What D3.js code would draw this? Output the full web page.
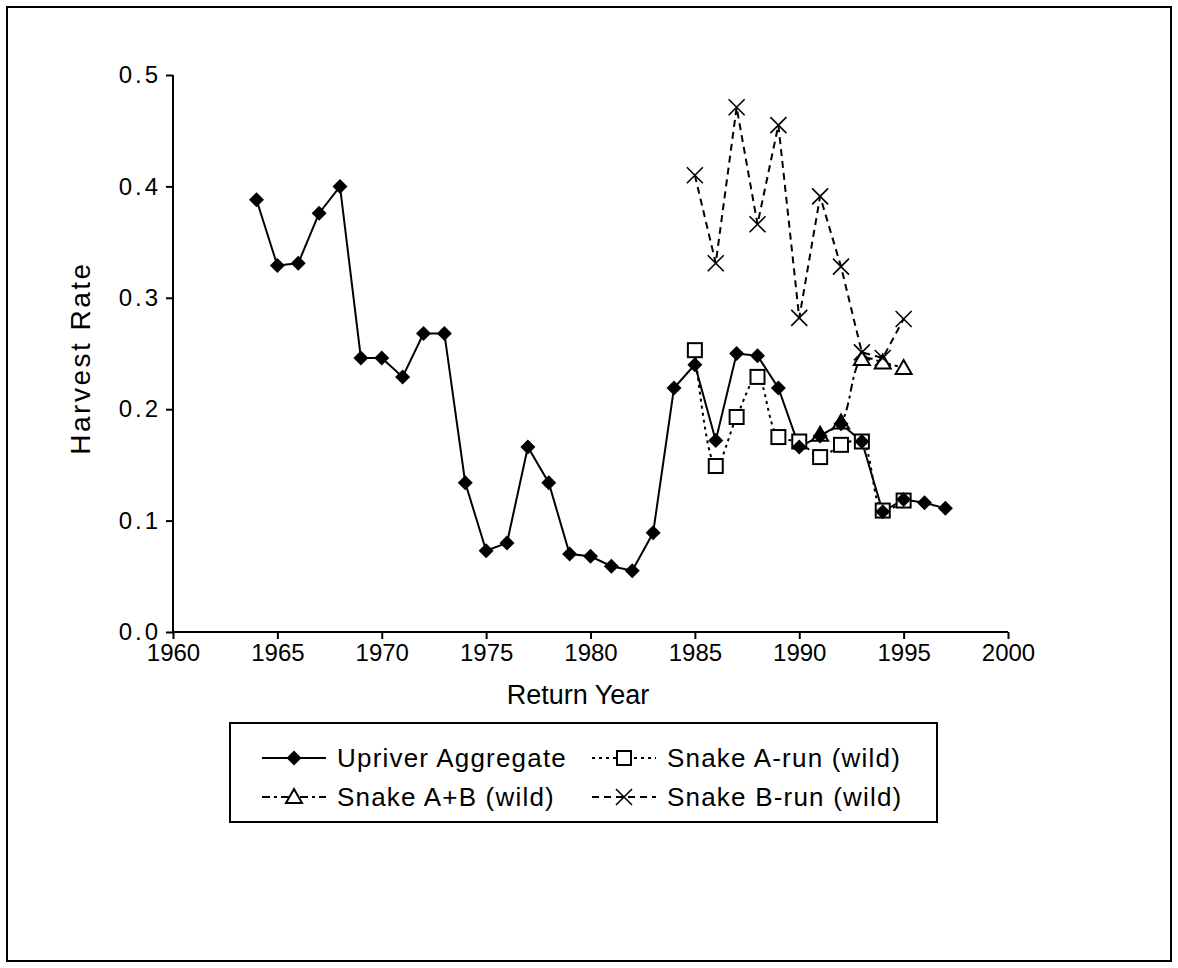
<!DOCTYPE html>
<html>
<head>
<meta charset="utf-8">
<script src="https://cdn.jsdelivr.net/npm/d3@7/dist/d3.min.js"></script>
<style>
  body { margin: 0; background: #fff; }
  svg text { font-family: "Liberation Sans", Arial, sans-serif; fill: #000; }
</style>
</head>
<body>
<div id="chart"></div>
<script>
// data
var upriverYears = d3.range(1964, 1998);
var upriverRate = [0.388, 0.329, 0.331, 0.376, 0.400, 0.246, 0.246, 0.229, 0.268, 0.268,
    0.134, 0.073, 0.080, 0.166, 0.134, 0.070, 0.068, 0.059, 0.055, 0.089,
    0.219, 0.240, 0.172, 0.250, 0.248, 0.219, 0.166, 0.176, 0.187, 0.171,
    0.108, 0.119, 0.116, 0.111];
var snakeYears = d3.range(1985, 1996);
var snakeARate = [0.253, 0.149, 0.193, 0.229, 0.175, 0.171, 0.157, 0.168, 0.171, 0.109, 0.118];
var snakeBRate = [0.410, 0.331, 0.471, 0.366, 0.455, 0.282, 0.391, 0.328, 0.251, 0.246, 0.281];
var snakeABYears = d3.range(1991, 1996);
var snakeABRate = [0.177, 0.188, 0.245, 0.242, 0.237];
var xTicks = [1960, 1965, 1970, 1975, 1980, 1985, 1990, 1995, 2000];
var yTicks = [0, 0.1, 0.2, 0.3, 0.4, 0.5];
var seriesNames = ["Upriver Aggregate", "Snake A-run (wild)", "Snake A+B (wild)", "Snake B-run (wild)"];

var svgWidth = 1178;
var svgHeight = 968;
var svg = d3.select("#chart")
    .append("svg")
    .attr("width", svgWidth)
    .attr("height", svgHeight);

// outer frame
svg.append("rect")
    .attr("x", 7).attr("y", 7)
    .attr("width", 1164).attr("height", 954)
    .attr("fill", "none")
    .attr("stroke", "#000")
    .attr("stroke-width", 2);

var plot = {left: 173, right: 1008, top: 75, bottom: 632};

var xScale = d3.scaleLinear()
    .domain([1960, 2000])
    .range([plot.left, plot.right]);
var yScale = d3.scaleLinear()
    .domain([0, 0.5])
    .range([plot.bottom, plot.top]);

var xAxis = d3.axisBottom(xScale)
    .tickValues(xTicks)
    .tickFormat(d3.format("d"))
    .tickSize(7)
    .tickPadding(5);
var yAxis = d3.axisLeft(yScale)
    .tickValues(yTicks)
    .tickFormat(d3.format(".1f"))
    .tickSize(7)
    .tickPadding(5);

var xAxisGroup = svg.append("g")
    .attr("transform", "translate(0," + plot.bottom + ")")
    .call(xAxis);
var yAxisGroup = svg.append("g")
    .attr("transform", "translate(" + plot.left + ",0)")
    .call(yAxis);

[xAxisGroup, yAxisGroup].forEach(function (g) {
    g.selectAll("path, line").attr("stroke", "#000").attr("stroke-width", 2);
    g.select(".domain").attr("d", g === xAxisGroup
        ? "M" + plot.left + ",0H" + plot.right
        : "M0," + plot.top + "V" + plot.bottom);
    g.selectAll("text")
        .style("font-size", "24px")
        .attr("fill", "#000");
});
yAxisGroup.selectAll("text").style("letter-spacing", "3px");

svg.append("text")
    .attr("x", 578)
    .attr("y", 704)
    .attr("text-anchor", "middle")
    .style("font-size", "27px")
    .text("Return Year");

svg.append("text")
    .attr("transform", "translate(90,358) rotate(-90)")
    .attr("text-anchor", "middle")
    .style("font-size", "28px")
    .style("letter-spacing", "2.5px")
    .text("Harvest Rate");

// markers
function drawMarker(g, kind, x, y) {
    if (kind === "diamond") {
        g.append("path")
            .attr("d", "M" + x + "," + (y - 7.5) + "L" + (x + 7.5) + "," + y + "L" + x + "," + (y + 7.5) + "L" + (x - 7.5) + "," + y + "Z")
            .attr("fill", "#000");
    } else if (kind === "square") {
        g.append("rect")
            .attr("x", x - 7).attr("y", y - 7)
            .attr("width", 14).attr("height", 14)
            .attr("fill", "#fff")
            .attr("stroke", "#000").attr("stroke-width", 2);
    } else if (kind === "triangle") {
        g.append("path")
            .attr("d", "M" + x + "," + (y - 8) + "L" + (x + 8) + "," + (y + 6) + "L" + (x - 8) + "," + (y + 6) + "Z")
            .attr("fill", "#fff")
            .attr("stroke", "#000").attr("stroke-width", 2);
    } else if (kind === "cross") {
        g.append("path")
            .attr("d", "M" + (x - 8) + "," + (y - 8) + "L" + (x + 8) + "," + (y + 8) + "M" + (x + 8) + "," + (y - 8) + "L" + (x - 8) + "," + (y + 8))
            .attr("stroke", "#000").attr("stroke-width", 1.6);
    }
}

var series = [
    {name: seriesNames[0], years: upriverYears, values: upriverRate, marker: "diamond", dash: null, curve: d3.curveLinear},
    {name: seriesNames[1], years: snakeYears, values: snakeARate, marker: "square", dash: "3,4", curve: d3.curveCatmullRom},
    {name: seriesNames[2], years: snakeABYears, values: snakeABRate, marker: "triangle", dash: "8,4,3,4", curve: d3.curveCatmullRom},
    {name: seriesNames[3], years: snakeYears, values: snakeBRate, marker: "cross", dash: "7,5", curve: d3.curveLinear}
];

var canvas = svg.append("g");

series.forEach(function (s) {
    var pts = s.years.map(function (yr, i) { return [yr, s.values[i]]; });
    var line = d3.line()
        .x(function (d) { return xScale(d[0]); })
        .y(function (d) { return yScale(d[1]); })
        .curve(s.curve);
    canvas.append("path")
        .datum(pts)
        .attr("d", line)
        .attr("fill", "none")
        .attr("stroke", "#000")
        .attr("stroke-width", 2)
        .attr("stroke-dasharray", s.dash);
});

// snake series first, upriver diamonds on top
[1, 2, 3, 0].forEach(function (k) {
    var s = series[k];
    var g = canvas.append("g");
    s.years.forEach(function (yr, i) {
        drawMarker(g, s.marker, xScale(yr), yScale(s.values[i]));
    });
});

// legend
var legend = svg.append("g");
legend.append("rect")
    .attr("x", 230).attr("y", 723)
    .attr("width", 707).attr("height", 99)
    .attr("fill", "#fff")
    .attr("stroke", "#000")
    .attr("stroke-width", 2);

var legendPos = [[262, 758], [592, 758], [262, 797], [592, 797]];
series.forEach(function (s, i) {
    var x0 = legendPos[i][0], y0 = legendPos[i][1];
    legend.append("line")
        .attr("x1", x0).attr("x2", x0 + 64)
        .attr("y1", y0).attr("y2", y0)
        .attr("stroke", "#000")
        .attr("stroke-width", 2)
        .attr("stroke-dasharray", s.dash);
    drawMarker(legend, s.marker, x0 + 32, y0);
    legend.append("text")
        .attr("x", x0 + 75)
        .attr("y", y0 + 9)
        .style("font-size", "26px")
        .style("letter-spacing", "1.2px")
        .text(s.name);
});
</script>
</body>
</html>
